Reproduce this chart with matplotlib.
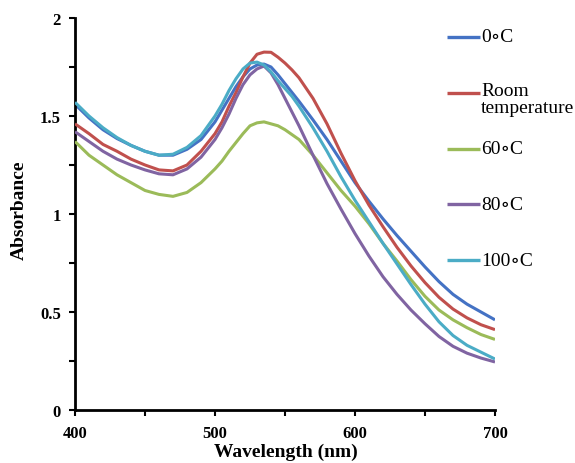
import matplotlib
matplotlib.use("Agg")
import matplotlib.pyplot as plt
import numpy as np

wavelength = [400, 410, 420, 430, 440, 450, 460, 470, 480, 490, 500, 505, 510, 515,
              520, 525, 530, 535, 540, 545, 550, 555, 560, 570, 580, 590, 600, 610,
              620, 630, 640, 650, 660, 670, 680, 690, 700]

abs_0c = [1.56, 1.49, 1.43, 1.385, 1.35, 1.32, 1.30, 1.30, 1.33, 1.38, 1.47, 1.53, 1.59, 1.65,
          1.70, 1.74, 1.76, 1.765, 1.75, 1.71, 1.665, 1.62, 1.575, 1.48, 1.38, 1.27, 1.16, 1.065,
          0.975, 0.89, 0.81, 0.73, 0.655, 0.59, 0.54, 0.50, 0.46]

abs_room = [1.46, 1.41, 1.355, 1.32, 1.28, 1.25, 1.225, 1.22, 1.25, 1.32, 1.41, 1.47, 1.55, 1.62,
            1.70, 1.77, 1.815, 1.826, 1.825, 1.80, 1.77, 1.735, 1.695, 1.59, 1.46, 1.31, 1.17, 1.045,
            0.935, 0.83, 0.735, 0.65, 0.575, 0.515, 0.47, 0.435, 0.41]

abs_60c = [1.37, 1.30, 1.25, 1.20, 1.16, 1.12, 1.10, 1.09, 1.11, 1.16, 1.23, 1.27, 1.32, 1.365,
           1.41, 1.45, 1.465, 1.47, 1.46, 1.45, 1.43, 1.405, 1.38, 1.30, 1.21, 1.12, 1.04, 0.95,
           0.85, 0.76, 0.665, 0.58, 0.51, 0.46, 0.42, 0.385, 0.36]

abs_80c = [1.42, 1.37, 1.32, 1.28, 1.25, 1.225, 1.205, 1.20, 1.23, 1.29, 1.38, 1.44, 1.51, 1.59,
           1.66, 1.71, 1.74, 1.755, 1.72, 1.66, 1.59, 1.52, 1.45, 1.30, 1.155, 1.025, 0.90, 0.785,
           0.68, 0.59, 0.51, 0.44, 0.375, 0.325, 0.29, 0.265, 0.245]

abs_100c = [1.57, 1.50, 1.44, 1.39, 1.35, 1.32, 1.30, 1.305, 1.34, 1.40, 1.50, 1.56, 1.63, 1.69,
            1.74, 1.77, 1.775, 1.76, 1.725, 1.68, 1.64, 1.60, 1.55, 1.44, 1.32, 1.19, 1.07, 0.96,
            0.85, 0.745, 0.64, 0.54, 0.45, 0.38, 0.33, 0.295, 0.26]

labels = ["0\u2218C", "Room\ntemperature", "60\u2218C", "80\u2218C", "100\u2218C"]
colors = ["#4472C4", "#C0504D", "#9BBB59", "#8064A2", "#4BACC6"]
series = [abs_0c, abs_room, abs_60c, abs_80c, abs_100c]

x_ticks = [400, 500, 600, 700]
y_ticks = [0, 0.5, 1, 1.5, 2]
y_tick_labels = ["0", "0.5", "1", "1.5", "2"]

serif = ["Liberation Serif", "DejaVu Serif"]
plt.rcParams["font.family"] = serif

fig = plt.figure(figsize=(5.75, 4.64), dpi=100)
ax = fig.add_axes([75 / 575, (464 - 411) / 464, 420 / 575, 392 / 464])

order = [1, 2, 3, 0, 4]
for i in order:
    ax.plot(wavelength, series[i], color=colors[i], lw=2.2, solid_joinstyle="round",
            solid_capstyle="butt", zorder=2 + i)

ax.set_xlim(400, 700)
ax.set_ylim(0, 2)
ax.set_xticks(x_ticks)
ax.set_xticks([450, 550, 650], minor=True)
ax.set_yticks(y_ticks)
ax.set_yticklabels(y_tick_labels)
ax.set_yticks([0.25, 0.75, 1.25, 1.75], minor=True)
for lab in ax.get_xticklabels() + ax.get_yticklabels():
    lab.set_fontweight("bold")
    lab.set_fontsize(12)
ax.tick_params(which="both", direction="out", length=4, width=1.5, colors="black")
ax.tick_params(axis="y", pad=6)
ax.tick_params(axis="x", pad=7)

for s in ["top", "right"]:
    ax.spines[s].set_visible(False)
for s in ["left", "bottom"]:
    ax.spines[s].set_linewidth(2)

ax.set_xlabel("Wavelength (nm)", fontsize=14, fontweight="bold")
ax.set_ylabel("Absorbance", fontsize=14, fontweight="bold")
ax.xaxis.set_label_coords(0.502, -0.083)
ax.yaxis.set_label_coords(-0.112, 0.513)

# manual legend
entry_y_px = [38, 94, 150, 205, 261]
for lab, col, py in zip(labels, colors, entry_y_px):
    ya = (411 - py) / 392
    ax.plot([(447 - 75) / 420, (480 - 75) / 420], [ya, ya], color=col, lw=2.4,
            transform=ax.transAxes, clip_on=False, solid_capstyle="butt")
    if "\n" in lab:
        ax.text((481 - 75) / 420, ya + 11 / 392, lab, transform=ax.transAxes,
                ha="left", va="top", fontsize=14, linespacing=1.0, family=serif)
    else:
        ax.text((481 - 75) / 420, ya, lab, transform=ax.transAxes,
                ha="left", va="center", fontsize=14, family=serif)

fig.savefig("out.png", dpi=100)
